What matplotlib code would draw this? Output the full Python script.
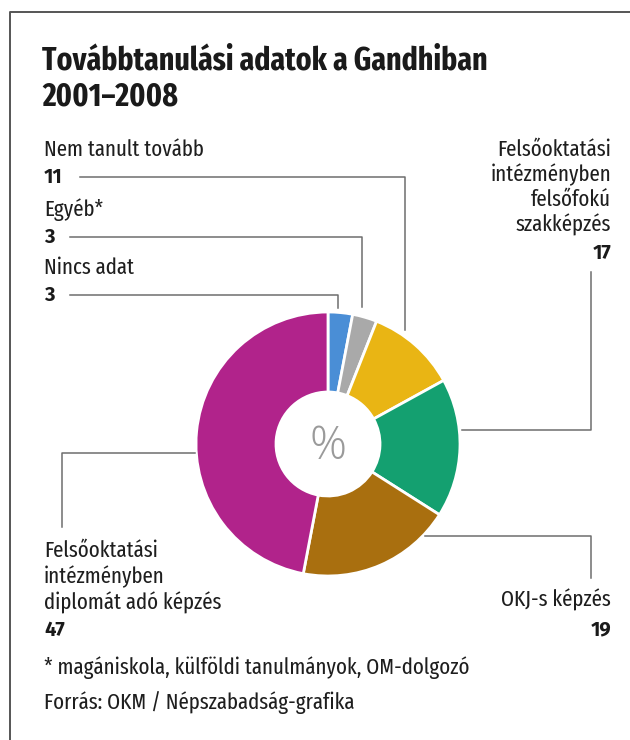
import matplotlib
matplotlib.use("Agg")
import matplotlib.pyplot as plt

BODY = ['Fira Sans Extra Condensed', 'Fira Sans Condensed', 'Roboto Condensed',
        'Liberation Sans Narrow', 'DejaVu Sans']
HEAD = ['Fira Sans Extra Condensed', 'Fira Sans Condensed', 'Roboto Condensed',
        'Liberation Sans Narrow', 'DejaVu Sans']
NUMS = ['Fira Sans', 'Roboto', 'DejaVu Sans']
plt.rcParams['font.family'] = BODY

# Data
labels = ['Nincs adat', 'Egyéb*', 'Nem tanult tovább',
          'Felsőoktatási intézményben felsőfokú szakképzés',
          'OKJ-s képzés',
          'Felsőoktatási intézményben diplomát adó képzés']
values = [3, 3, 11, 17, 19, 47]
colors = ['#4a8ed6', '#a9a9a9', '#e9b514', '#14a070', '#a96f0f', '#b1238b']

W, H = 630, 740
fig = plt.figure(figsize=(W / 100, H / 100), dpi=100)
ax = fig.add_axes([0, 0, 1, 1])
ax.set_aspect('equal')


def Y(y):
    # pixel row from top -> data y
    return H - y


def fit_width(t, width):
    # rescale a text's font size so that it spans the given pixel width
    r = fig.canvas.get_renderer()
    w = t.get_window_extent(r).width
    t.set_fontsize(t.get_fontsize() * width / w)


# donut
cx, cy, r_out, r_in = 328, 444, 132, 52
ax.pie(values, colors=colors, startangle=90, counterclock=False,
       center=(cx, Y(cy)), radius=r_out, frame=True,
       wedgeprops=dict(width=r_out - r_in, edgecolor='white', linewidth=2))
ax.set_xlim(0, W)
ax.set_ylim(0, H)
ax.axis('off')
ax.text(cx, Y(cy + 3), '%', fontsize=33, color='#9a9a9a', ha='center',
        va='center', family=['Open Sans', 'DejaVu Sans'], fontweight='light')

# frame
ax.plot([10, 10, 630], [0, Y(12), Y(12)], color='#555555', lw=1.4)

# title
t1 = ax.text(42, Y(70), 'Továbbtanulási adatok a Gandhiban', fontsize=26,
             fontweight='bold', color='#1a1a1a', va='baseline', ha='left',
             family=HEAD)
fit_width(t1, 445)
ax.text(42, Y(105), '2001–2008', fontsize=t1.get_fontsize(),
        fontweight='bold', color='#1a1a1a', va='baseline', ha='left',
        family=HEAD)

txt = dict(fontsize=15.5, color='#1e1e1e', va='center')
num = dict(fontsize=14.5, color='#1a1a1a', va='center', fontweight='bold',
           family=NUMS)
line = dict(color='#6e6e6e', lw=1.1)

# left-top labels
first = ax.text(44, Y(150), labels[2], ha='left', **txt)
fit_width(first, 161)
txt['fontsize'] = first.get_fontsize()
ax.text(44, Y(177), str(values[2]), ha='left', **num)
ax.text(44, Y(210), labels[1], ha='left', **txt)
ax.text(44, Y(237), str(values[1]), ha='left', **num)
ax.text(44, Y(268), labels[0], ha='left', **txt)
ax.text(44, Y(295), str(values[0]), ha='left', **num)

ax.plot([80, 405, 405], [Y(177), Y(177), Y(330)], **line)
ax.plot([70, 362, 362], [Y(237), Y(237), Y(307)], **line)
ax.plot([70, 338, 338], [Y(295), Y(295), Y(308)], **line)

# right labels
for i, s in enumerate(['Felsőoktatási', 'intézményben', 'felsőfokú', 'szakképzés']):
    ax.text(611, Y(150 + 25 * i), s, ha='right', **txt)
ax.text(611, Y(253), str(values[3]), ha='right', **num)
ax.plot([591, 591, 462], [Y(272), Y(430), Y(430)], **line)

ax.text(611, Y(600), labels[4], ha='right', **txt)
ax.text(611, Y(630), str(values[4]), ha='right', **num)
ax.plot([425, 591, 591], [Y(536), Y(536), Y(578)], **line)

# left-bottom label
for i, s in enumerate(['Felsőoktatási', 'intézményben', 'diplomát adó képzés']):
    ax.text(44, Y(551 + 26 * i), s, ha='left', **txt)
ax.text(44, Y(630), str(values[5]), ha='left', **num)
ax.plot([195, 62, 62], [Y(453), Y(453), Y(527)], **line)

# notes
ax.text(44, Y(668), '* magániskola, külföldi tanulmányok, OM-dolgozó', ha='left', **txt)
ax.text(44, Y(703), 'Forrás: OKM / Népszabadság-grafika', ha='left', **txt)

fig.savefig('out.png', dpi=100, facecolor='white')
